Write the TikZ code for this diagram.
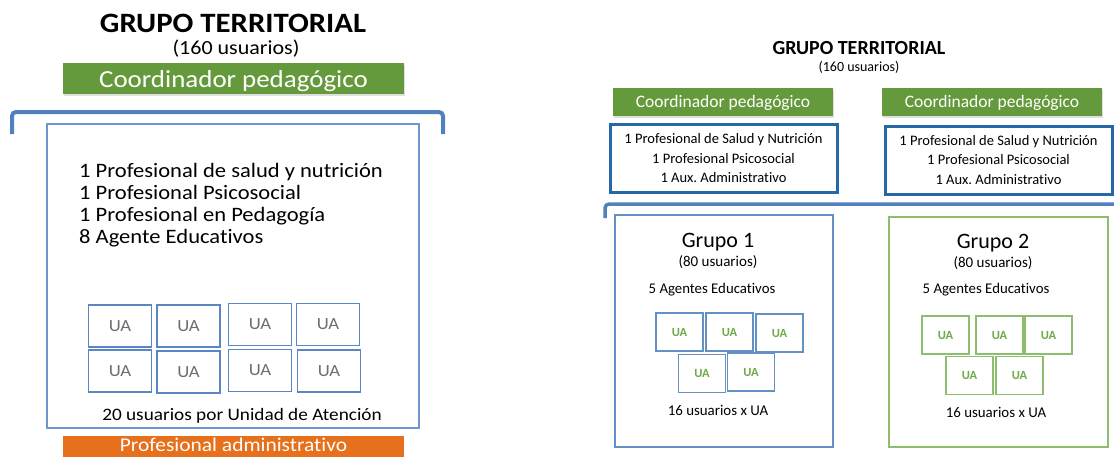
\documentclass[tikz,border=0pt]{standalone}
\usepackage{fontspec}
\setmainfont[Ligatures=NoCommon]{Carlito}
\newfontfamily\anchafont[FakeStretch=1.1,Ligatures=NoCommon]{Carlito}
\usetikzlibrary{shadows}
\frenchspacing
\definecolor{verdecoord}{RGB}{100,154,60}
\definecolor{naranjaadmin}{RGB}{230,112,28}
\definecolor{azulcorchete}{RGB}{80,128,190}
\definecolor{azulmarco}{RGB}{110,150,205}
\definecolor{azulua}{RGB}{90,135,195}
\definecolor{azulequipo}{RGB}{38,103,165}
\definecolor{azulgrupo}{RGB}{100,145,195}
\definecolor{verdegrupo}{RGB}{140,190,110}
\definecolor{verdeua}{RGB}{110,170,70}
\definecolor{grisua}{RGB}{110,110,110}

\begin{document}
\begin{tikzpicture}[x=1pt,y=-1pt]
	\tikzstyle{coordbox}=[fill=verdecoord,text=white,inner sep=0pt,text depth=0pt,drop shadow={opacity=.25,shadow xshift=1pt,shadow yshift=-1.5pt}];
	\tikzstyle{adminbox}=[fill=naranjaadmin,text=white,inner sep=0pt];
	\tikzstyle{corchete}=[draw=azulcorchete,line width=4pt,rounded corners=4pt];
	\tikzstyle{uagris}=[draw=azulua,line width=1.5pt,minimum width=63pt,minimum height=42pt,text=grisua,font=\anchafont\fontsize{17}{19}\selectfont];
	\tikzstyle{uaverde}=[line width=1.5pt,minimum width=47pt,minimum height=38pt,text=verdeua,font=\bfseries\fontsize{12.5}{14}\selectfont];
	\tikzstyle{equipo}=[draw=azulequipo,line width=3pt,minimum width=227pt,minimum height=68pt,align=center,font=\fontsize{14.5}{19.5}\selectfont];
	\useasboundingbox (0,0) rectangle (1114,456);
	\clip (0,0) rectangle (1114,456);

	% grupo territorial de la izquierda
	\node[anchor=base,font=\anchafont\bfseries\fontsize{28}{30}\selectfont] (tituloA) at (233,32) {GRUPO TERRITORIAL};
	\node[anchor=base,font=\anchafont\fontsize{20}{22}\selectfont] (usuariosA) at (236,54) {(160 usuarios)};
	\node[coordbox,text height=17.6pt,minimum width=341pt,minimum height=31pt,font=\anchafont\fontsize{24.5}{26}\selectfont] (coordA) at (233.5,78.5) {Coordinador pedagógico};
	\draw[corchete] (12,134) -- (12,112) -- (443,112) -- (443,134);
	\node[draw=azulmarco,line width=1.5pt,minimum width=372pt,minimum height=304pt] (marcoA) at (233,276) {};
	\foreach \txt [count=\i] in {1 Profesional de salud y nutrición,1 Profesional Psicosocial,1 Profesional en Pedagogía,8 Agente Educativos}
		\node[anchor=base west,inner sep=0pt,font=\anchafont\fontsize{20.5}{22}\selectfont] (perfilA\i) at (79,155+22*\i) {\txt};
	\foreach \x/\y [count=\i] in {120/326,188.5/326,260/324.5,328/324.5,120/371,188.5/372,260/370.5,329/371}
		\node[uagris] (uaA\i) at (\x,\y) {UA};
	\node[anchor=base,font=\anchafont\fontsize{17.5}{19}\selectfont] (notaA) at (242,420) {20 usuarios por Unidad de Atención};
	\node[adminbox,text height=0pt,text depth=2.5pt,minimum width=341pt,minimum height=34pt,font=\anchafont\fontsize{19.5}{21}\selectfont] (adminA) at (233.5,453) {Profesional administrativo};

	% grupo territorial de la derecha
	\node[anchor=base,font=\bfseries\fontsize{20}{22}\selectfont] (tituloB) at (859,54) {GRUPO TERRITORIAL};
	\node[anchor=base,font=\fontsize{14}{16}\selectfont] (usuariosB) at (859,71) {(160 usuarios)};
	\node[coordbox,text height=10pt,minimum width=220pt,minimum height=28pt,font=\fontsize{17.5}{19}\selectfont] (coordB1) at (723,102) {Coordinador pedagógico};
	\node[coordbox,text height=10pt,minimum width=220pt,minimum height=28pt,font=\fontsize{17.5}{19}\selectfont] (coordB2) at (992,102) {Coordinador pedagógico};
	\node[equipo] (equipoB1) at (723.5,158.5) {1 Profesional de Salud y Nutrición\\1 Profesional Psicosocial\\1 Aux. Administrativo};
	\node[equipo] (equipoB2) at (998.5,160) {1 Profesional de Salud y Nutrición\\1 Profesional Psicosocial\\1 Aux. Administrativo};
	\draw[corchete,line width=3.5pt] (605,218) -- (605,204) -- (1120,204);

	\node[draw=azulgrupo,line width=1.5pt,minimum width=218pt,minimum height=232pt] (grupo1) at (724,331) {};
	\node[draw=verdegrupo,line width=1.5pt,minimum width=219pt,minimum height=230pt] (grupo2) at (998.5,332) {};
	\node[anchor=base,font=\fontsize{22}{24}\selectfont] (nombre1) at (718,247) {Grupo 1};
	\node[anchor=base,font=\fontsize{22}{24}\selectfont] (nombre2) at (993,248) {Grupo 2};
	\node[anchor=base,font=\fontsize{15}{17}\selectfont] (usuarios1) at (718,266) {(80 usuarios)};
	\node[anchor=base,font=\fontsize{15}{17}\selectfont] (usuarios2) at (993,267) {(80 usuarios)};
	\node[anchor=base,font=\fontsize{14.8}{17}\selectfont] (agentes1) at (712,293) {5 Agentes Educativos};
	\node[anchor=base,font=\fontsize{14.8}{17}\selectfont] (agentes2) at (986,293) {5 Agentes Educativos};
	\foreach \x/\y [count=\i] in {679.5/332,729.5/332,779.5/333,702/373.5,751/372}
		\node[uaverde,draw=azulgrupo] (ua1\i) at (\x,\y) {UA};
	\foreach \x/\y [count=\i] in {945.5/335,999.5/335,1048.5/335,969.5/375.5,1019.5/375.5}
		\node[uaverde,draw=verdegrupo] (ua2\i) at (\x,\y) {UA};
	\node[anchor=base,font=\fontsize{14.9}{17}\selectfont] (nota1) at (718,415) {16 usuarios x UA};
	\node[anchor=base,font=\fontsize{14.9}{17}\selectfont] (nota2) at (996,417) {16 usuarios x UA};
\end{tikzpicture}
\end{document}
